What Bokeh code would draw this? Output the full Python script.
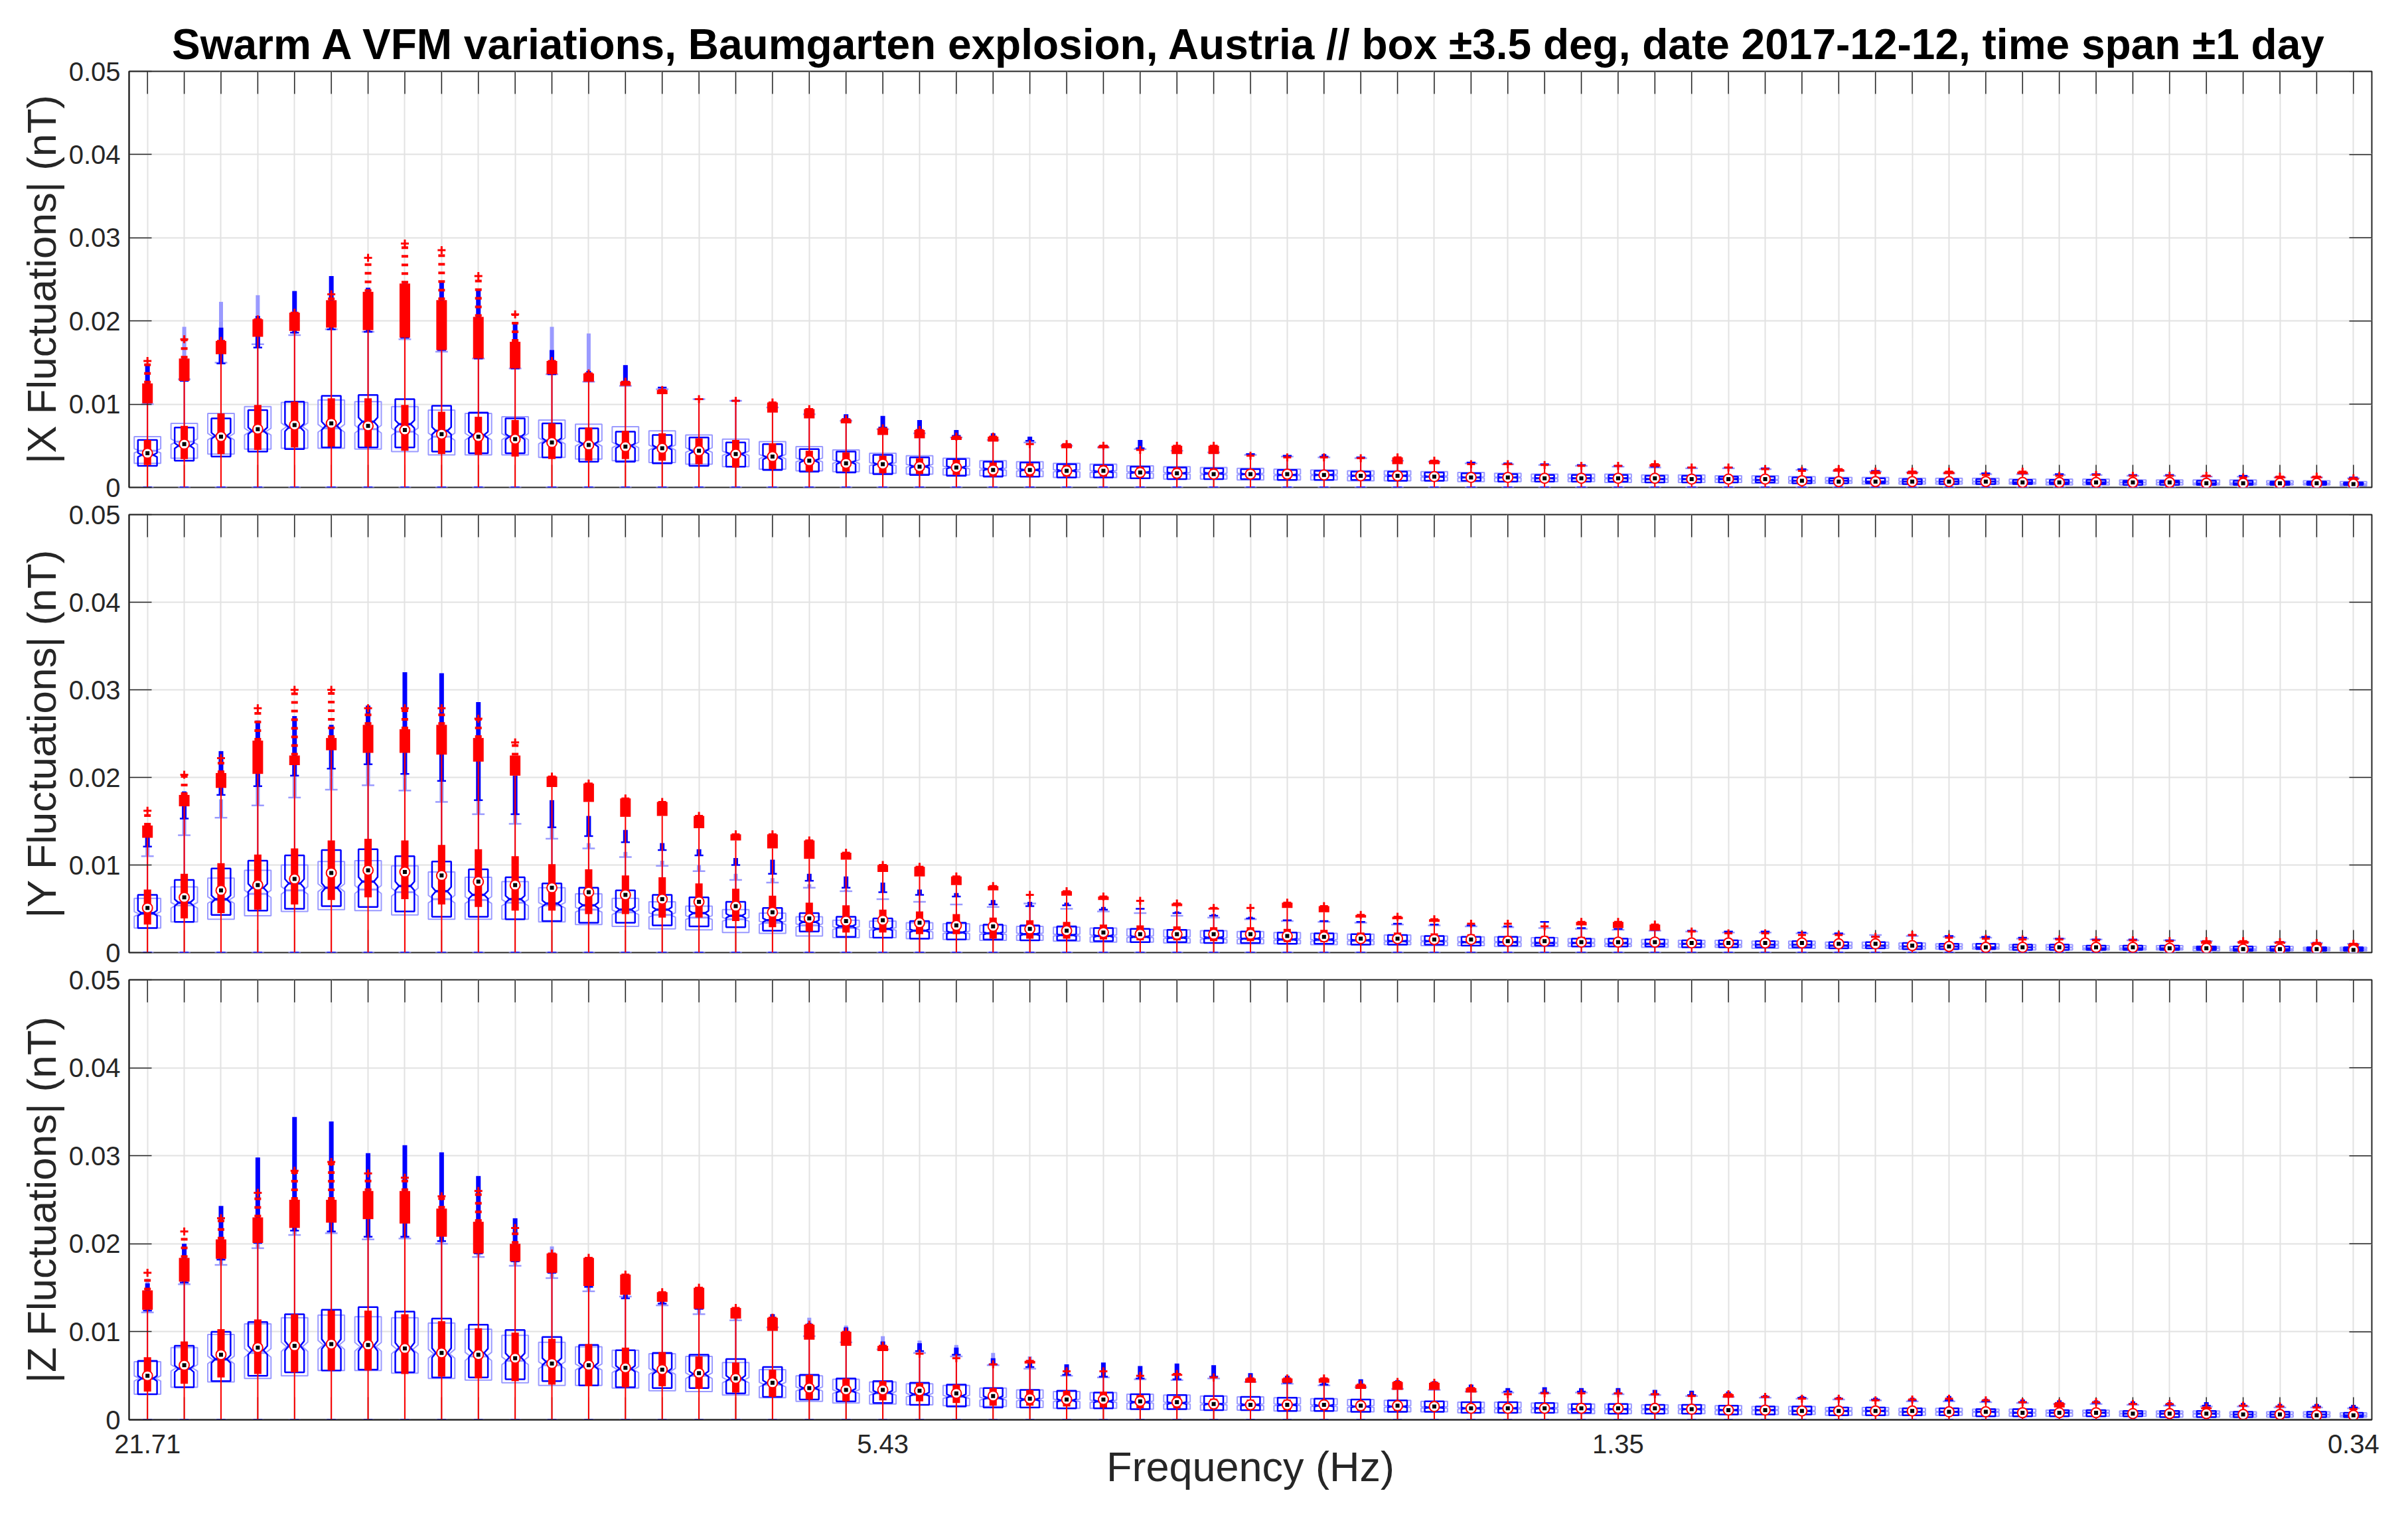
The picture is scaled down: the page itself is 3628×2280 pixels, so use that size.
import numpy as np
from bokeh.plotting import figure
from bokeh.layouts import column
from bokeh.models import Range1d, FixedTicker, LinearAxis, NumeralTickFormatter
from bokeh.embed import file_html
from bokeh.resources import INLINE

TITLE = "Swarm A VFM variations, Baumgarten explosion, Austria // box \u00b13.5 deg, date 2017-12-12, time span \u00b11 day"
X_LABEL = "Frequency (Hz)"
Y_LABELS = ["|X Fluctuations| (nT)", "|Y Fluctuations| (nT)", "|Z Fluctuations| (nT)"]

FREQS = [21.71, 20.26, 18.90, 17.63, 16.45, 15.35, 14.32, 13.36, 12.47, 11.63,
         10.86, 10.13, 9.45, 8.82, 8.23, 7.68, 7.16, 6.68, 6.23, 5.82,
         5.43, 5.06, 4.73, 4.41, 4.11, 3.84, 3.58, 3.34, 3.12, 2.91,
         2.71, 2.53, 2.36, 2.20, 2.06, 1.92, 1.79, 1.67, 1.56, 1.45,
         1.35, 1.27, 1.18, 1.10, 1.03, 0.96, 0.90, 0.84, 0.78, 0.73,
         0.68, 0.63, 0.59, 0.55, 0.51, 0.48, 0.45, 0.42, 0.39, 0.36, 0.34]
FREQ_TICK_IDX = [0, 20, 40, 60]
Y_TICKS = [0, 0.01, 0.02, 0.03, 0.04, 0.05]
UNIT = 1e-4  # all statistics below are in units of 1e-4 nT

# ---------------- X component ----------------
R_Q1_X = [27,34,40,45,48,49,49,44,40,39, 37,34,32,34,32,28,24,22,19,19, 17,16,15,13,13,13,13,12,11,10, 10,10,10,9,9,8,8,8,7,7, 7,7,6,6,6,5,4,4,4,4, 4,4,4,4,4,4,3,3,3,3, 2]
R_MED_X = [41,52,61,70,75,77,74,69,64,61, 58,54,51,49,47,44,40,37,32,29, 28,25,24,21,21,20,20,18,17,16, 16,16,15,14,14,13,12,12,11,11, 11,11,10,10,10,8,7,7,7,7, 7,6,6,6,6,6,5,5,5,5, 4]
R_Q3_X = [57,74,89,99,103,107,107,99,91,85, 81,77,72,68,65,59,57,53,44,42, 38,35,33,30,29,27,27,25,24,23, 22,21,20,19,19,18,17,16,15,15, 15,14,14,13,13,11,10,10,10,10, 10,9,8,8,8,8,7,7,7,7, 6]
R_WHI_X = [101,128,160,181,188,192,189,180,165,155, 143,136,127,122,112,106,104,90,83,77, 63,59,57,55,52,47,47,45,40,40, 38,36,36,35,28,28,28,27,27,26, 26,25,24,24,22,20,19,16,16,16, 15,16,14,15,14,14,13,12,11,11, 9]
R_DENSE_X = [125,155,176,202,210,225,235,245,225,205, 175,152,137,127,117,106,104,102,94,82, 71,69,61,61,52,52,50,45,50,50, 38,36,36,35,36,32,28,28,27,26, 26,28,24,24,22,20,22,19,19,19, 15,19,14,15,14,14,14,12,13,13, 11]
R_OUT_X = [152,178,176,202,210,232,276,293,285,254, 208,152,137,127,117,106,104,102,94,82, 71,69,61,61,52,52,50,45,50,50, 38,36,36,35,36,32,28,28,27,26, 26,28,24,24,22,20,22,19,19,19, 15,19,14,15,14,14,14,12,13,13, 11]
B_Q1_X = [26,32,37,43,46,48,48,48,43,41, 41,36,31,31,29,26,25,21,19,18, 16,15,14,13,13,12,12,11,10,10, 10,9,9,9,8,8,8,7,7,7, 7,6,6,6,6,5,5,5,4,4, 4,4,4,4,3,3,3,3,3,3, 3]
B_MED_X = [39,50,62,68,72,74,79,76,68,63, 61,56,52,50,48,43,40,36,32,30, 28,25,24,22,21,20,19,18,17,17, 16,15,15,14,14,13,12,12,11,11, 11,10,10,10,9,8,8,7,7,7, 7,6,6,6,6,6,5,5,5,5, 4]
B_Q3_X = [57,72,83,93,103,110,111,106,98,90, 83,77,71,67,63,60,54,52,46,43, 39,36,34,31,30,28,27,25,24,23, 22,21,20,19,19,18,17,16,15,15, 15,14,14,13,13,12,11,11,10,10, 10,9,9,9,8,8,8,8,7,7, 6]
B_WHI_X = [102,128,149,168,186,190,187,180,165,155, 143,136,128,127,120,106,104,98,90,82, 72,67,62,58,56,52,50,47,45,43, 40,38,37,36,33,32,30,29,28,27, 26,25,24,24,23,22,21,20,19,18, 17,17,16,16,15,15,14,14,13,13, 12]
B_OUT_X = [149,155,192,206,236,254,240,245,246,238, 196,165,140,147,119,106,104,98,90,88, 86,81,69,65,61,52,50,57,45,43, 40,38,40,36,33,32,30,29,28,27, 26,25,24,24,23,22,21,20,19,18, 17,17,16,16,15,15,14,14,13,13, 12]
L_Q1_X = [29,35,40,46,47,47,46,43,39,39, 39,36,34,32,30,28,25,22,20,19, 17,16,15,14,13,12,12,11,10,10, 9,9,9,8,8,8,7,7,7,7, 6,6,6,6,5,5,5,4,4,4, 4,4,3,3,3,3,3,3,3,3, 2]
L_MED_X = [44,55,61,67,73,71,70,67,61,61, 61,56,53,51,48,45,41,37,33,31, 28,26,24,22,21,20,19,18,17,16, 16,15,15,14,14,13,12,12,11,11, 11,10,10,10,9,8,8,7,7,7, 7,6,6,6,6,6,5,5,5,5, 4]
L_Q3_X = [61,77,89,97,102,105,103,97,93,89, 85,81,76,73,68,63,58,55,49,45, 41,38,35,32,31,29,28,26,25,24, 23,22,21,20,20,19,18,17,16,16, 16,15,15,14,14,13,12,12,11,11, 11,10,10,10,9,9,9,9,8,8, 7]
L_WHI_X = [100,130,150,172,183,190,187,178,163,155, 143,136,127,122,118,106,104,96,88,80, 70,65,60,57,54,50,48,46,44,42, 39,37,36,35,32,31,29,28,27,26, 25,24,23,23,22,21,20,19,18,17, 16,16,15,15,14,14,13,13,12,12, 11]
L_OUT_X = [148,193,223,231,200,200,190,180,170,160, 190,193,185,147,120,106,104,96,88,80, 70,65,60,57,54,50,48,46,44,42, 39,37,36,35,32,31,29,28,27,26, 25,24,23,23,22,21,20,19,18,17, 16,16,15,15,14,14,13,13,12,12, 11]

# ---------------- Y component ----------------
R_Q1_Y = [32,39,45,49,55,60,63,61,55,52, 48,48,44,44,40,40,36,29,24,23, 23,21,21,16,16,16,15,14,14,13, 13,12,12,11,11,10,10,9,9,9, 8,8,8,8,7,7,7,7,6,5, 4,4,4,4,4,3,3,3,3,3, 2]
R_MED_Y = [51,63,71,77,84,91,94,92,88,81, 77,74,69,66,61,58,53,46,39,36, 37,34,31,30,27,25,23,21,21,21, 21,19,18,16,16,15,15,13,13,12, 12,12,11,11,11,11,10,10,8,7, 6,6,6,6,6,5,5,4,4,4, 3]
R_Q3_Y = [72,90,102,112,119,128,130,128,123,118, 110,101,95,88,86,79,73,65,57,54, 49,47,44,40,37,35,32,31,30,29, 29,27,26,23,23,22,21,19,19,18, 17,17,16,16,16,15,14,14,12,11, 10,10,9,9,9,8,8,7,7,7, 6]
R_WHI_Y = [131,167,188,204,214,231,228,228,226,218, 202,189,172,155,156,142,128,119,107,106, 92,87,77,71,66,65,60,59,53,49, 51,51,46,40,38,35,33,33,30,31, 28,25,24,22,22,20,20,18,20,17, 16,15,15,14,14,13,10,10,10,8, 7]
R_DENSE_Y = [145,180,205,242,225,245,260,255,260,245, 225,201,193,176,172,156,135,135,128,114, 100,98,87,76,66,70,64,59,56,51, 51,57,53,43,41,38,33,33,30,35, 35,32,24,22,22,20,20,18,20,17, 16,15,15,14,14,13,13,13,12,11, 10]
R_OUT_Y = [162,203,222,279,300,300,279,279,279,267, 240,201,193,176,172,156,135,135,128,114, 100,98,87,76,66,70,64,59,56,51, 51,57,53,43,41,38,33,33,30,35, 35,32,24,22,22,20,20,18,20,17, 16,15,15,14,14,13,13,13,12,11, 10]
B_Q1_Y = [28,35,43,48,50,53,52,47,41,41, 38,36,34,34,31,30,29,25,24,18, 17,16,15,15,14,14,13,12,12,11, 11,10,10,9,9,9,8,8,8,7, 7,7,6,6,6,6,5,5,4,4, 4,3,3,3,3,3,3,2,2,2, 2]
B_MED_Y = [45,57,61,74,79,74,81,76,70,66, 61,56,54,49,49,45,42,37,35,30, 27,25,23,22,21,20,19,18,17,17, 16,15,15,14,13,13,12,12,11,11, 11,10,10,10,9,9,8,8,7,7, 6,6,6,5,5,5,5,4,4,4, 4]
B_Q3_Y = [66,83,96,105,111,117,118,110,104,95, 86,79,74,71,66,63,58,51,45,41, 39,36,34,32,31,30,28,27,26,25, 24,23,22,21,20,19,18,18,17,16, 16,15,14,14,13,13,12,12,11,10, 10,9,9,8,8,8,7,7,7,6, 6]
B_WHI_Y = [121,153,180,190,202,210,215,204,196,174, 158,143,133,126,117,111,100,90,82,74, 69,66,64,55,53,54,49,50,45,42, 39,37,36,35,33,32,31,30,35,28, 27,26,25,24,24,23,22,18,20,19, 18,17,16,15,15,14,13,12,12,11, 10]
B_OUT_Y = [142,184,230,265,270,260,282,320,319,286, 202,174,156,140,125,118,108,106,90,87, 80,72,68,60,58,57,52,50,47,44, 41,37,36,35,33,32,31,30,35,28, 27,26,25,24,24,23,22,18,20,19, 18,17,16,15,15,14,13,12,12,11, 10]
L_Q1_Y = [28,35,38,42,47,49,48,43,38,38, 38,35,32,30,27,26,23,22,19,17, 17,16,15,14,14,13,12,12,11,11, 10,10,9,9,9,8,8,7,7,7, 7,6,6,6,5,5,5,5,4,4, 4,3,3,3,3,3,2,2,2,2, 2]
L_MED_Y = [44,54,60,67,71,74,72,69,61,60, 57,54,49,46,43,40,38,34,31,28, 27,25,23,22,21,20,19,18,17,16, 16,15,14,14,13,13,12,12,11,11, 10,10,10,9,9,9,8,8,7,7, 6,6,6,5,5,5,5,4,4,4, 4]
L_Q3_Y = [62,75,85,94,100,104,105,99,92,86, 81,74,67,62,58,53,49,45,41,37, 36,34,33,31,30,29,28,27,26,25, 24,23,22,21,20,19,18,18,17,16, 16,15,14,14,13,13,12,12,11,10, 10,9,9,8,8,8,7,7,7,6, 6]
L_WHI_Y = [110,134,154,168,177,186,191,185,172,158, 147,130,119,109,99,93,83,80,74,70, 61,58,55,52,56,50,47,45,42,40, 38,36,35,34,32,31,30,29,28,27, 26,25,24,23,23,22,21,20,19,18, 17,16,16,15,14,14,13,12,12,11, 10]
L_OUT_Y = [140,165,175,200,210,225,220,215,210,190, 165,150,125,115,105,100,90,85,78,72, 61,58,55,52,56,50,47,45,42,40, 38,36,35,34,32,31,30,29,28,27, 26,25,24,23,23,22,21,20,19,18, 17,16,16,15,14,14,13,12,12,11, 10]

# ---------------- Z component ----------------
R_Q1_Z = [32,41,48,52,54,56,56,52,49,47, 44,40,38,37,38,35,31,26,23,21, 22,21,19,16,16,15,14,13,13,12, 11,11,11,10,10,10,9,9,9,9, 8,8,8,7,7,7,6,6,6,6, 5,5,5,5,4,4,4,4,3,3, 3]
R_MED_Z = [50,62,74,82,84,86,85,81,76,74, 70,64,62,59,57,53,47,42,36,34, 34,33,30,27,24,23,23,21,20,18, 17,17,17,16,16,15,13,13,13,13, 13,13,12,11,11,10,10,10,10,9, 9,8,8,8,7,7,7,6,6,5, 5]
R_Q3_Z = [71,89,103,114,120,124,124,120,112,104, 99,92,86,82,77,72,65,57,51,47, 44,42,40,36,34,33,32,28,27,24, 23,23,22,21,21,20,18,18,17,17, 17,17,16,15,15,14,14,13,13,12, 12,11,11,11,10,10,10,9,9,8, 8]
R_WHI_Z = [125,157,183,201,218,224,228,223,208,189, 180,167,152,142,134,126,115,101,91,84, 78,75,70,63,64,55,55,50,50,48, 42,42,42,35,34,34,31,29,30,30, 30,29,27,25,26,24,24,22,23,24, 22,20,14,20,18,18,12,16,15,14, 12]
R_DENSE_Z = [147,184,205,230,250,250,260,260,240,225, 200,189,184,165,145,150,127,116,108,100, 84,75,70,63,67,55,55,50,52,48, 47,47,47,40,43,42,36,29,30,30, 30,29,27,29,26,24,24,22,23,24, 22,20,19,20,18,18,14,16,15,14, 12]
R_OUT_Z = [167,214,229,258,283,293,280,275,254,260, 218,189,184,165,145,150,127,116,108,100, 84,75,70,63,67,55,55,50,52,48, 47,47,47,40,43,42,36,29,30,30, 30,29,27,29,26,24,24,22,23,24, 22,20,19,20,18,18,14,16,15,14, 12]
B_Q1_Z = [29,37,44,50,54,56,57,54,48,48, 46,44,39,37,36,36,30,26,23,21, 19,17,15,14,14,13,13,12,12,11, 11,10,10,9,9,9,8,8,8,8, 7,7,7,6,6,6,5,5,5,5, 4,4,4,4,4,3,3,3,3,3, 3]
B_MED_Z = [47,58,69,79,84,86,84,82,76,76, 71,66,61,58,55,52,47,42,36,33, 31,29,27,25,23,22,21,20,19,18, 17,17,16,15,15,14,13,13,13,12, 12,12,12,11,11,10,10,10,9,9, 9,8,8,8,7,7,7,6,6,6, 5]
B_Q3_Z = [67,84,100,111,120,125,128,123,115,108, 102,94,85,79,76,74,69,60,51,47, 44,42,40,36,34,33,31,29,28,27, 26,25,24,23,22,21,20,20,19,18, 18,17,17,16,15,15,14,14,13,13, 12,12,11,11,10,10,10,9,9,9, 8]
B_WHI_Z = [124,156,182,201,215,214,208,208,203,189, 180,167,151,138,132,126,118,108,98,90, 82,78,74,63,60,51,49,47,46,49, 44,42,40,38,36,35,33,32,31,32, 30,29,28,27,26,25,24,23,22,22, 21,20,19,19,18,17,16,16,15,15, 14]
B_OUT_Z = [155,200,243,298,344,339,303,312,304,277, 229,187,184,150,140,135,125,120,110,105, 89,87,82,70,65,63,65,61,64,62, 53,50,48,46,45,44,40,36,37,36, 36,34,33,32,28,27,26,25,25,27, 24,23,22,22,21,20,20,19,18,18, 17]
L_Q1_Z = [29,37,43,47,50,56,56,53,47,45, 42,39,39,36,33,32,28,25,21,19, 18,17,16,15,14,13,13,12,12,11, 11,10,10,9,9,9,8,8,8,7, 7,7,7,6,6,6,5,5,5,5, 4,4,4,4,4,3,3,3,3,3, 3]
L_MED_Z = [47,59,68,76,83,85,83,80,75,72, 67,62,60,57,55,50,45,40,35,32, 30,28,26,24,23,22,21,20,19,18, 17,17,16,15,15,14,13,13,13,12, 12,12,12,11,11,10,10,10,9,9, 9,8,8,8,7,7,7,6,6,6, 5]
L_Q3_Z = [66,82,97,109,116,119,117,116,110,103, 96,88,83,79,75,72,65,57,50,46, 43,41,39,36,34,32,31,29,28,27, 26,25,24,23,22,21,20,20,19,18, 18,17,17,16,15,15,14,14,13,13, 12,12,11,11,10,10,10,9,9,9, 8]
L_WHI_Z = [122,154,176,195,210,212,205,206,200,185, 175,161,146,140,130,120,113,105,95,88, 80,76,72,62,58,50,48,46,45,47, 43,41,39,37,35,34,32,31,30,31, 29,28,27,26,25,24,23,22,21,21, 20,19,18,18,17,16,15,15,14,14, 13]
L_OUT_Z = [160,200,230,240,230,225,220,220,215,200, 190,197,170,150,140,130,125,116,116,107, 95,90,85,76,72,60,58,56,55,54, 50,41,39,37,35,34,32,31,30,31, 29,28,27,26,25,24,23,22,21,21, 20,19,18,18,17,16,15,15,14,14, 13]

PANELS = [
    dict(ylabel=Y_LABELS[0],
         red=(R_Q1_X, R_MED_X, R_Q3_X, R_WHI_X, R_DENSE_X, R_OUT_X),
         blue=(B_Q1_X, B_MED_X, B_Q3_X, B_WHI_X, B_OUT_X),
         light=(L_Q1_X, L_MED_X, L_Q3_X, L_WHI_X, L_OUT_X)),
    dict(ylabel=Y_LABELS[1],
         red=(R_Q1_Y, R_MED_Y, R_Q3_Y, R_WHI_Y, R_DENSE_Y, R_OUT_Y),
         blue=(B_Q1_Y, B_MED_Y, B_Q3_Y, B_WHI_Y, B_OUT_Y),
         light=(L_Q1_Y, L_MED_Y, L_Q3_Y, L_WHI_Y, L_OUT_Y)),
    dict(ylabel=Y_LABELS[2],
         red=(R_Q1_Z, R_MED_Z, R_Q3_Z, R_WHI_Z, R_DENSE_Z, R_OUT_Z),
         blue=(B_Q1_Z, B_MED_Z, B_Q3_Z, B_WHI_Z, B_OUT_Z),
         light=(L_Q1_Z, L_MED_Z, L_Q3_Z, L_WHI_Z, L_OUT_Z)),
]

FONT = "Liberation Sans"
RED = "#ff0000"
BLUE = "#0000ff"
LIGHT = "#9a9aff"
AXC = "#262626"
GRIDC = "#e2e2e2"
N = len(FREQS)
XPOS = np.arange(N, dtype=float)
FRAME_W = 3379
TICK_PX = 34


def notched(q1, med, q3, hw):
    xs, ys = [], []
    for xc, a, m, b in zip(XPOS, q1, med, q3):
        n = 0.08 * (b - a)
        xs.append([xc - hw, xc + hw, xc + hw, xc + 0.6 * hw, xc + hw, xc + hw,
                   xc - hw, xc - hw, xc - 0.6 * hw, xc - hw])
        ys.append([a, a, m - n, m, m + n, b, b, m + n, m, m - n])
    return xs, ys


def build(panel, frame_h, b_top, b_bot, title=False, xlabels=False):
    y0, y1 = Y_TICKS[0], Y_TICKS[-1]
    p = figure(frame_width=FRAME_W, frame_height=frame_h,
               x_range=Range1d(-0.5, N - 0.5), y_range=Range1d(y0, y1),
               x_axis_location=None, y_axis_location=None,
               output_backend="svg", toolbar_location=None,
               min_border_left=194, min_border_right=40,
               min_border_top=b_top, min_border_bottom=b_bot)
    p.outline_line_color = AXC
    p.outline_line_width = 2
    p.xgrid.ticker = FixedTicker(ticks=list(range(N)))
    p.ygrid.ticker = FixedTicker(ticks=Y_TICKS)
    p.xgrid.grid_line_color = GRIDC
    p.ygrid.grid_line_color = GRIDC
    p.xgrid.grid_line_width = 2
    p.ygrid.grid_line_width = 2

    if title:
        p.title.text = TITLE
        p.title.align = "center"
        p.title.text_font = FONT
        p.title.text_font_size = "64px"
        p.title.text_font_style = "bold"
        p.title.text_color = "#000000"
        p.title.standoff = 9

    # left labelled axis (ticks pointing inward)
    ya = LinearAxis(ticker=FixedTicker(ticks=Y_TICKS),
                    formatter=NumeralTickFormatter(format="0.[00]"),
                    axis_label=panel["ylabel"])
    ya.major_tick_in = TICK_PX
    ya.major_tick_out = 0
    ya.major_tick_line_color = AXC
    ya.major_tick_line_width = 1.5
    ya.axis_line_color = AXC
    ya.axis_line_width = 2
    ya.major_label_text_font = FONT
    ya.major_label_text_font_size = "40px"
    ya.major_label_text_line_height = 0.8
    ya.major_label_text_color = AXC
    ya.major_label_standoff = 13
    ya.axis_label_text_font = FONT
    ya.axis_label_text_font_size = "62px"
    ya.axis_label_text_font_style = "normal"
    ya.axis_label_text_color = AXC
    ya.axis_label_standoff = 4
    p.add_layout(ya, "left")

    if xlabels:
        xa = LinearAxis(ticker=FixedTicker(ticks=FREQ_TICK_IDX),
                        major_label_overrides={i: "%.2f" % FREQS[i] for i in FREQ_TICK_IDX},
                        axis_label=X_LABEL)
        xa.major_tick_in = 0
        xa.major_tick_out = 0
        xa.axis_line_color = AXC
        xa.axis_line_width = 2
        xa.major_label_text_font = FONT
        xa.major_label_text_font_size = "40px"
        xa.major_label_text_color = AXC
        xa.major_label_standoff = 22
        xa.axis_label_text_font = FONT
        xa.axis_label_text_font_size = "63px"
        xa.axis_label_text_font_style = "normal"
        xa.axis_label_text_color = AXC
        xa.axis_label_standoff = -18
        p.add_layout(xa, "below")

    # inward tick marks on top, bottom and right edges (drawn beneath the data)
    ty = TICK_PX / frame_h * (y1 - y0)
    tx = TICK_PX / FRAME_W * N
    p.segment(XPOS, np.full(N, y1), XPOS, np.full(N, y1 - ty), line_color=AXC, line_width=1.5)
    p.segment(XPOS, np.full(N, y0), XPOS, np.full(N, y0 + ty), line_color=AXC, line_width=1.5)
    yt = np.array(Y_TICKS)
    p.segment(np.full(len(yt), N - 0.5), yt, np.full(len(yt), N - 0.5 - tx), yt,
              line_color=AXC, line_width=1.5)

    rq1, rmed, rq3, rwhi, rden, rout = [np.array(v) * UNIT for v in panel["red"]]
    bq1, bmed, bq3, bwhi, bout = [np.array(v) * UNIT for v in panel["blue"]]
    lq1, lmed, lq3, lwhi, lout = [np.array(v) * UNIT for v in panel["light"]]
    zero = np.zeros(N)

    # light (semi-transparent) box plot
    xs, ys = notched(lq1, lmed, lq3, 0.36)
    p.patches(xs, ys, fill_color=None, line_color=LIGHT, line_width=2)
    p.segment(XPOS - 0.22, lmed, XPOS + 0.22, lmed, line_color=LIGHT, line_width=3)
    p.segment(XPOS, lq3, XPOS, lwhi, line_color=LIGHT, line_width=1.5)
    p.segment(XPOS - 0.17, lwhi, XPOS + 0.17, lwhi, line_color=LIGHT, line_width=2.5)
    p.segment(XPOS - 0.17, zero, XPOS + 0.17, zero, line_color=LIGHT, line_width=2.5)
    p.segment(XPOS, lwhi, XPOS, lout, line_color=LIGHT, line_width=6)

    # dark blue notched box plot
    xs, ys = notched(bq1, bmed, bq3, 0.26)
    p.patches(xs, ys, fill_color=None, line_color=BLUE, line_width=2.5)
    p.segment(XPOS - 0.16, bmed, XPOS + 0.16, bmed, line_color=BLUE, line_width=3.5)
    p.segment(XPOS, bq3, XPOS, bwhi, line_color=BLUE, line_width=1.5)
    p.segment(XPOS - 0.12, bwhi, XPOS + 0.12, bwhi, line_color=BLUE, line_width=2.5)
    p.segment(XPOS - 0.12, zero, XPOS + 0.12, zero, line_color=BLUE, line_width=2.5)
    p.segment(XPOS, bwhi, XPOS, bout, line_color=BLUE, line_width=7)

    # red compact box plot
    p.segment(XPOS, zero, XPOS, rwhi, line_color=RED, line_width=2)
    p.segment(XPOS, rwhi, XPOS, rden, line_color=RED, line_width=16)
    p.segment(XPOS, rden, XPOS, rout, line_color=RED, line_width=10, line_dash="4 9")
    p.scatter(XPOS, rout, marker="cross", size=12, line_color=RED, line_width=3)
    p.vbar(x=XPOS, width=0.2, bottom=rq1, top=rq3, fill_color=RED, line_color=None)
    p.scatter(XPOS, rmed, marker="circle", size=15, fill_color="white",
              line_color=RED, line_width=2)
    p.scatter(XPOS, rmed, marker="square", size=6, fill_color="black", line_color=None)
    return p


p1 = build(PANELS[0], 627, 107, 21, title=True)
p2 = build(PANELS[1], 660, 20, 21)
p3 = build(PANELS[2], 663, 20, 120, xlabels=True)
layout = column(p1, p2, p3, spacing=0)

open("out.html", "w").write(file_html(layout, INLINE))
